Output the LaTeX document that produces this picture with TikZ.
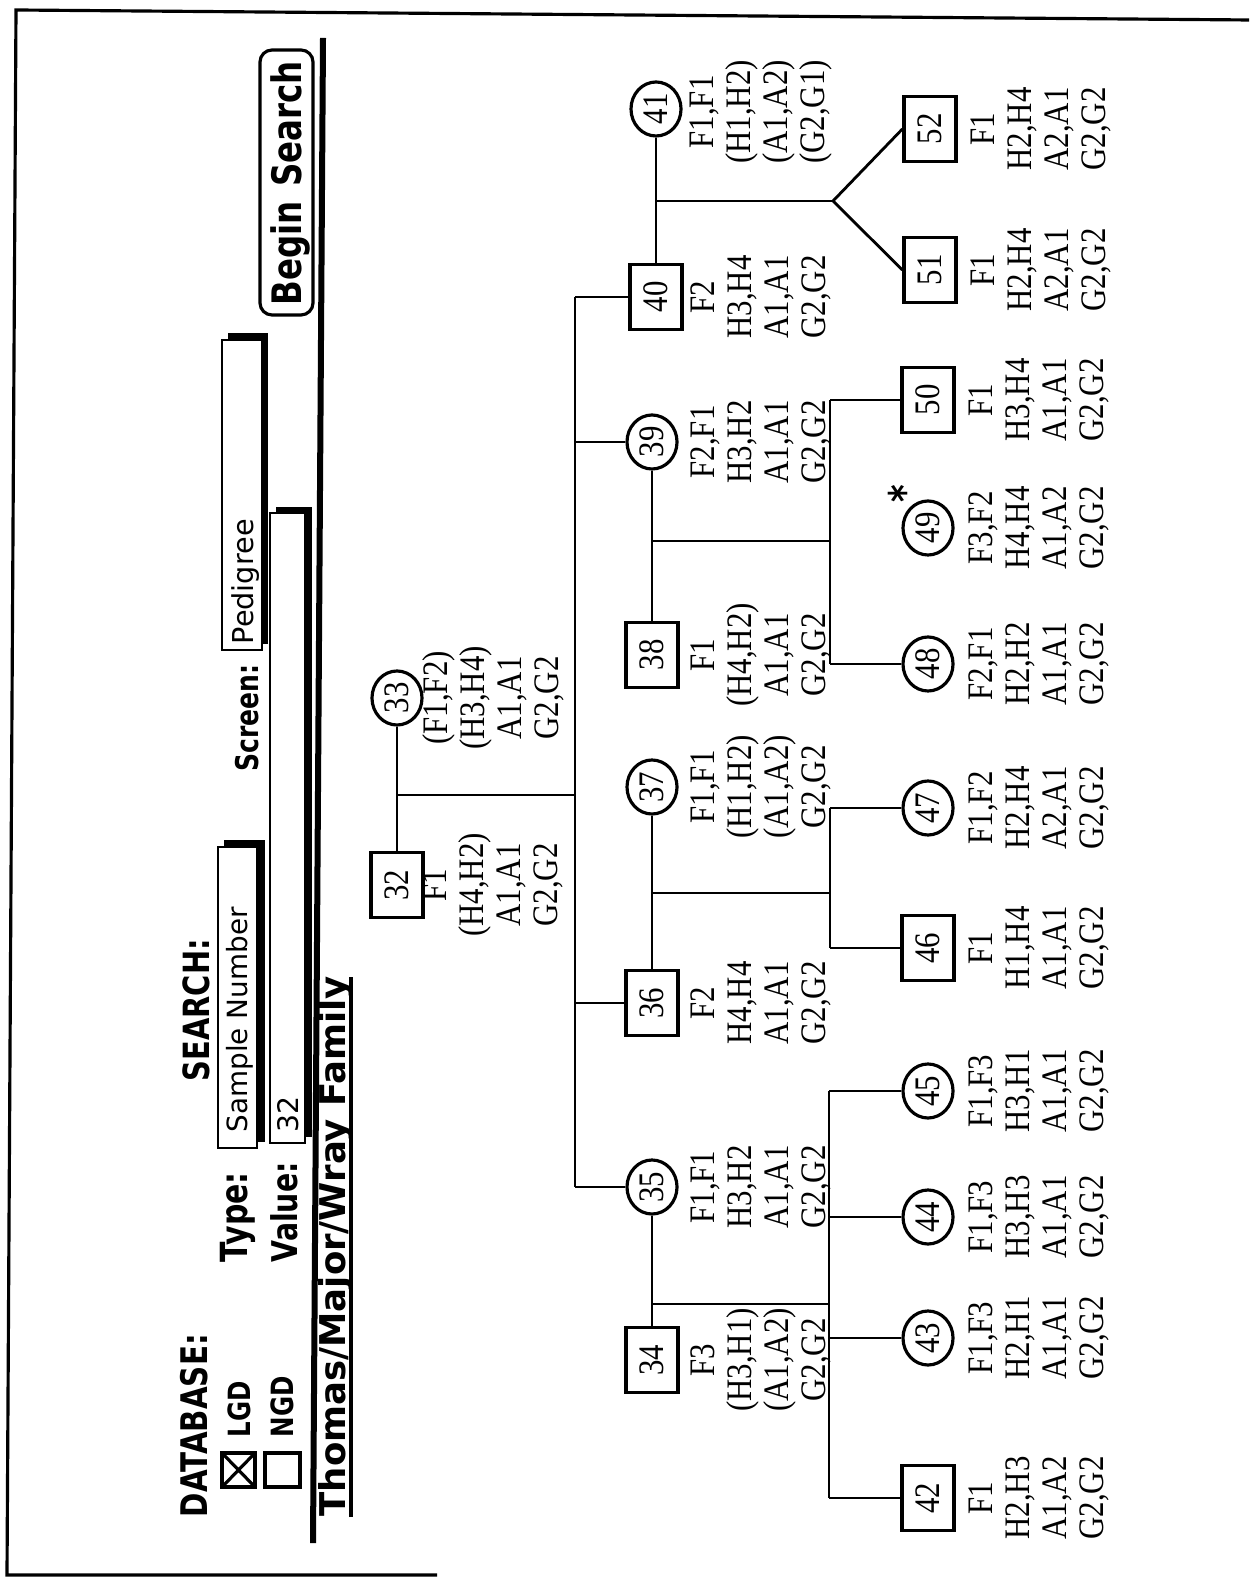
\documentclass[tikz,border=0pt]{standalone}
\usepackage{fontspec}
\usetikzlibrary{shapes.geometric}
\newfontfamily\geno[FakeStretch=0.86]{Liberation Serif}
\newfontfamily\chic[FakeStretch=0.8]{DejaVu Sans}
\newfontfamily\geneva{DejaVu Sans}
\newcommand\gfont{\geno\fontsize{10.2pt}{10.5pt}\selectfont}
\newcommand\lab[2]{\resizebox{#1}{!}{\chic\bfseries #2}}
\newcommand\gv[2]{\resizebox{#1}{!}{\geneva #2}}
\begin{document}
\begin{tikzpicture}[x=0.01cm,y=-0.01cm,
  box/.style={draw,line width=0.9pt,minimum width=0.52cm,minimum height=0.65cm,inner sep=0pt,font=\gfont},
  fem/.style={draw,ellipse,line width=0.9pt,minimum width=0.50cm,minimum height=0.54cm,inner sep=0pt,font=\gfont},
  gt/.style={rotate=90,align=center,inner sep=0pt,font=\gfont},
  lbl/.style={rotate=90,anchor=base west,inner sep=0pt},
  link/.style={line width=0.8pt},
  frame/.style={line width=0.9pt},
  field/.style={draw,fill=white,line width=0.8pt}]
\useasboundingbox (0,0) rectangle (1249,1577);
% frame
\draw[frame] (1249,20) -- (16,10) -- (7,1575) -- (437,1575);
% header rule
\draw[line width=0.06cm] (323,38) -- (313,1543);
% Begin Search button
\draw[line width=0.9pt,rounded corners=0.12cm] (260,50) rectangle (313,315);
\node[lbl] (bs) at (301,306) {\lab{2.44cm}{Begin\hspace{0.35em}Search}};
% DATABASE
\node[lbl] (db) at (207,1518) {\lab{1.83cm}{DATABASE:}};
\draw[line width=0.9pt] (222,1453) rectangle (255,1487);
\draw[line width=0.9pt] (222,1453) -- (255,1487) (255,1453) -- (222,1487);
\node[lbl] (lgd) at (250,1438) {\lab{0.56cm}{LGD}};
\draw[line width=0.9pt] (265,1453) rectangle (300,1487);
\node[lbl] (ngd) at (293,1438) {\lab{0.61cm}{NGD}};
% SEARCH
\node[lbl] (se) at (209,1082) {\lab{1.42cm}{SEARCH:}};
\node[lbl] (ty) at (247,1263) {\lab{0.90cm}{Type:}};
\node[lbl] (va) at (297,1263) {\lab{1.00cm}{Value:}};
\node[lbl] (sc) at (258,772) {\lab{1.07cm}{Screen:}};
% fields
\fill (224,840) rectangle (265,1142);
\draw[field] (218,847) rectangle (257,1148);
\node[lbl] (sn) at (247,1133) {\gv{2.25cm}{Sample Number}};
\fill (276,507) rectangle (312,1137);
\draw[field] (270,513) rectangle (305,1143);
\node[lbl] (v32) at (298,1133) {\gv{0.36cm}{32}};
\fill (228,333) rectangle (268,644);
\draw[field] (222,340) rectangle (262,650);
\node[lbl] (pd) at (253,645) {\gv{1.25cm}{Pedigree}};
% title
\node[lbl] (title) at (345,1517) {\resizebox{5.40cm}{!}{\geneva\bfseries Thomas/Major/Wray Family}};
\draw[line width=1pt] (351,1517) -- (351,977);
% ---------- pedigree ----------
% Gen I
\node[box] (n32) at (397,885) {\rotatebox{90}{32}};
\node[fem] (n33) at (397,698) {\rotatebox{90}{33}};
\node[gt] (t32) at (493,885) {F1\\(H4,H2)\\A1,A1\\G2,G2};
\node[gt] (t33) at (493,698) {(F1,F2)\\(H3,H4)\\A1,A1\\G2,G2};
% Gen II
\node[box] (n34) at (652,1360) {\rotatebox{90}{34}};
\node[fem] (n35) at (652,1187) {\rotatebox{90}{35}};
\node[box] (n36) at (652,1003) {\rotatebox{90}{36}};
\node[fem] (n37) at (652,787) {\rotatebox{90}{37}};
\node[box] (n38) at (652,655) {\rotatebox{90}{38}};
\node[fem] (n39) at (652,442) {\rotatebox{90}{39}};
\node[box] (n40) at (656,297) {\rotatebox{90}{40}};
\node[fem] (n41) at (656,109) {\rotatebox{90}{41}};
\node[gt] (t34) at (761,1360) {F3\\(H3,H1)\\(A1,A2)\\G2,G2};
\node[gt] (t35) at (761,1187) {F1,F1\\H3,H2\\A1,A1\\G2,G2};
\node[gt] (t36) at (761,1003) {F2\\H4,H4\\A1,A1\\G2,G2};
\node[gt] (t37) at (761,787) {F1,F1\\(H1,H2)\\(A1,A2)\\G2,G2};
\node[gt] (t38) at (761,655) {F1\\(H4,H2)\\A1,A1\\G2,G2};
\node[gt] (t39) at (761,442) {F2,F1\\H3,H2\\A1,A1\\G2,G2};
\node[gt] (t40) at (761,297) {F2\\H3,H4\\A1,A1\\G2,G2};
\node[gt] (t41) at (761,112) {F1,F1\\(H1,H2)\\(A1,A2)\\(G2,G1)};
% Gen III
\node[box] (n42) at (928,1498) {\rotatebox{90}{42}};
\node[fem] (n43) at (928,1338) {\rotatebox{90}{43}};
\node[fem] (n44) at (928,1217) {\rotatebox{90}{44}};
\node[fem] (n45) at (928,1091) {\rotatebox{90}{45}};
\node[box] (n46) at (928,948) {\rotatebox{90}{46}};
\node[fem] (n47) at (928,808) {\rotatebox{90}{47}};
\node[fem] (n48) at (928,664) {\rotatebox{90}{48}};
\node[fem] (n49) at (928,528) {\rotatebox{90}{49}};
\node[box] (n50) at (928,400) {\rotatebox{90}{50}};
\node[box] (n51) at (930,270) {\rotatebox{90}{51}};
\node[box] (n52) at (930,129) {\rotatebox{90}{52}};
\node[font=\chic\bfseries\fontsize{12pt}{12pt}\selectfont,inner sep=0pt] (ast) at (904,494) {\rotatebox{90}{*}};
\node[gt] (t42) at (1039,1498) {F1\\H2,H3\\A1,A2\\G2,G2};
\node[gt] (t43) at (1039,1338) {F1,F3\\H2,H1\\A1,A1\\G2,G2};
\node[gt] (t44) at (1039,1217) {F1,F3\\H3,H3\\A1,A1\\G2,G2};
\node[gt] (t45) at (1039,1091) {F1,F3\\H3,H1\\A1,A1\\G2,G2};
\node[gt] (t46) at (1039,948) {F1\\H1,H4\\A1,A1\\G2,G2};
\node[gt] (t47) at (1039,808) {F1,F2\\H2,H4\\A2,A1\\G2,G2};
\node[gt] (t48) at (1039,664) {F2,F1\\H2,H2\\A1,A1\\G2,G2};
\node[gt] (t49) at (1039,528) {F3,F2\\H4,H4\\A1,A2\\G2,G2};
\node[gt] (t50) at (1039,400) {F1\\H3,H4\\A1,A1\\G2,G2};
\node[gt] (t51) at (1041,270) {F1\\H2,H4\\A2,A1\\G2,G2};
\node[gt] (t52) at (1041,129) {F1\\H2,H4\\A2,A1\\G2,G2};
% connectors
\draw[link] (n33) -- (n32);
\coordinate (m1) at (397,795); \coordinate (s1) at (575,795);
\draw[link] (m1) -- (s1);
\coordinate (sTop) at (575,297); \coordinate (sBot) at (575,1187);
\coordinate (s36) at (575,1003); \coordinate (s39) at (575,442);
\draw[link] (sTop) -- (sBot);
\draw[link] (sTop) -- (n40);
\draw[link] (s39) -- (n39);
\draw[link] (s36) -- (n36);
\draw[link] (sBot) -- (n35);
% 40 x 41
\draw[link] (n41) -- (n40);
\coordinate (a1) at (656,201); \coordinate (a2) at (833,201);
\draw[link] (a1) -- (a2);
\draw[link] (a2) -- (n51.west);
\draw[link] (a2) -- (n52.west);
% 38 x 39
\draw[link] (n39) -- (n38);
\coordinate (b1) at (652,541); \coordinate (b2) at (830,541);
\coordinate (b50) at (830,400); \coordinate (b48) at (830,664);
\draw[link] (b1) -- (b2);
\draw[link] (b50) -- (b48);
\draw[link] (b50) -- (n50);
\draw[link] (b48) -- (n48);
% 36 x 37
\draw[link] (n37) -- (n36);
\coordinate (c1) at (652,893); \coordinate (c2) at (830,893);
\coordinate (c47) at (830,808); \coordinate (c46) at (830,948);
\draw[link] (c1) -- (c2);
\draw[link] (c47) -- (c46);
\draw[link] (c47) -- (n47);
\draw[link] (c46) -- (n46);
% 34 x 35
\draw[link] (n35) -- (n34);
\coordinate (d1) at (652,1304); \coordinate (d2) at (829,1304);
\coordinate (d45) at (829,1091); \coordinate (d44) at (829,1217);
\coordinate (d43) at (829,1338); \coordinate (d42) at (829,1498);
\draw[link] (d1) -- (d2);
\draw[link] (d45) -- (d42);
\draw[link] (d45) -- (n45);
\draw[link] (d44) -- (n44);
\draw[link] (d43) -- (n43);
\draw[link] (d42) -- (n42);
\end{tikzpicture}
\end{document}
